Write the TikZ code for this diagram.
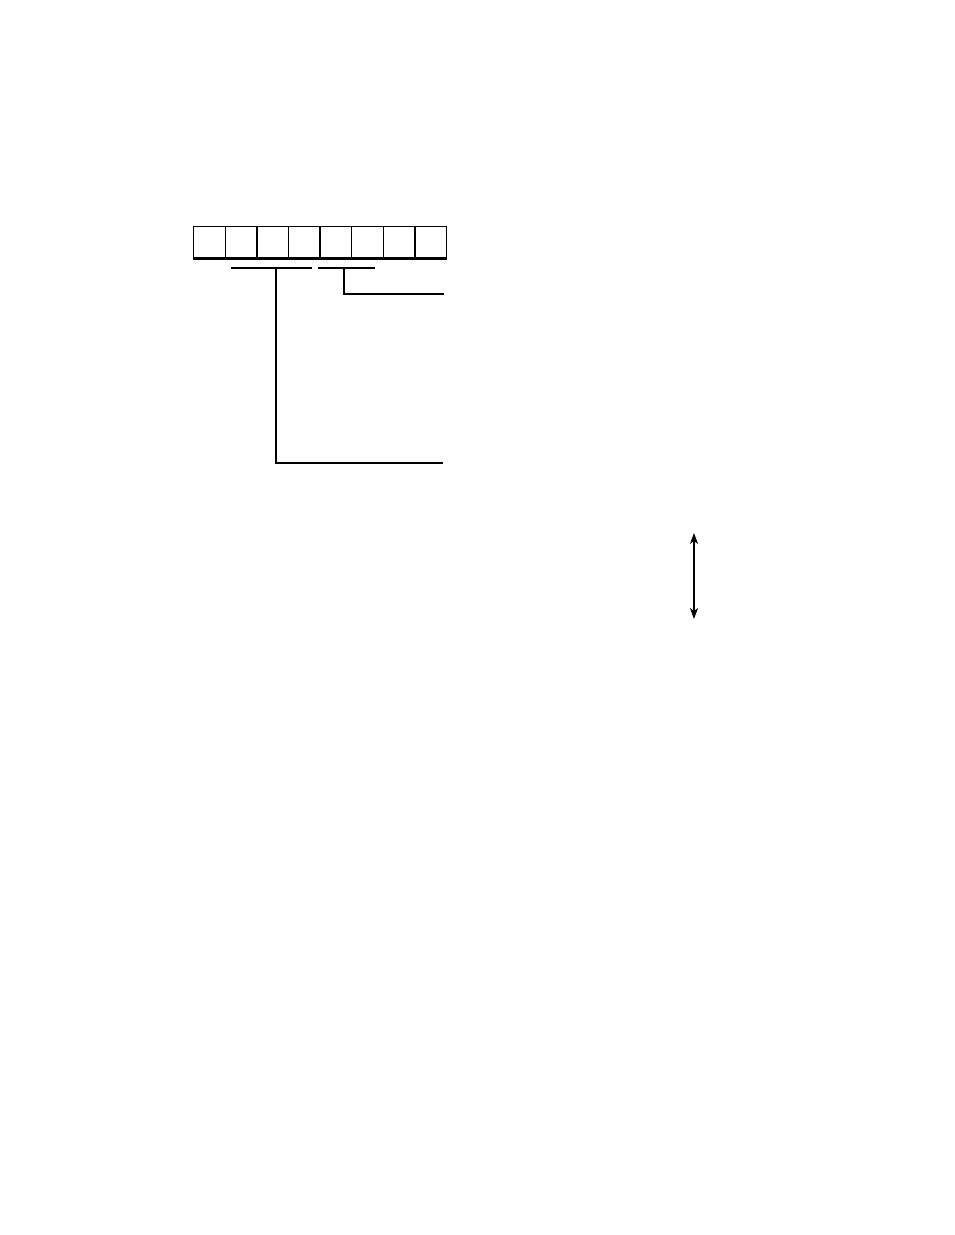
\documentclass[tikz,border=0pt]{standalone}
\usetikzlibrary{arrows.meta}
\begin{document}
\begin{tikzpicture}[x=1pt,y=-1pt,
  cellbox/.style={draw,line width=1.4pt,minimum width=31.6pt,minimum height=31pt,inner sep=0pt,anchor=north west},
  wire/.style={line width=1.2pt},
  dblarrow/.style={line width=1.2pt,{Stealth[length=11pt,width=8pt,inset=3pt]}-{Stealth[length=11pt,width=8pt,inset=3pt]}}]
\useasboundingbox (0,0) rectangle (954,1235);
\foreach \i in {1,...,8}{
  \node[cellbox] (cell\i) at ({193+(\i-1)*31.6},226) {};
}
\draw[line width=2.4pt] (cell1.south west) -- (cell8.south east);
% bracket bars
\coordinate (barAleft) at (231,268);
\coordinate (barAright) at (312,268);
\coordinate (barAtap) at (276,268);
\coordinate (barBleft) at (318,268);
\coordinate (barBright) at (375,268);
\coordinate (barBtap) at (344,268);
\coordinate (endA) at (443,463);
\coordinate (endB) at (444,294);
\draw[wire] (barAleft) -- (barAright);
\draw[wire] (barBleft) -- (barBright);
\draw[wire] (barAtap) |- (endA);
\draw[line width=2pt] (barBtap) |- (endB);
% double arrow
\coordinate (arrTop) at (694,533);
\coordinate (arrBot) at (694,619);
\draw[dblarrow] (arrTop) -- (arrBot);
\end{tikzpicture}
\end{document}
